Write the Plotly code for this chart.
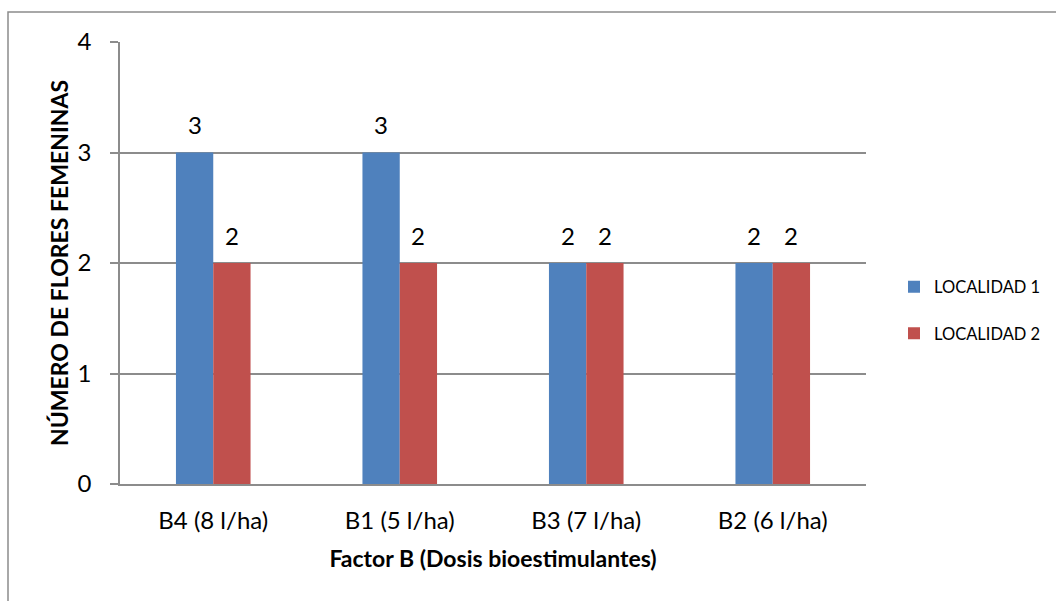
import plotly.graph_objects as go

# Datos: número de flores femeninas por dosis de bioestimulante
categorias = ["B4 (8 l/ha)", "B1 (5 l/ha)", "B3 (7 l/ha)", "B2 (6 l/ha)"]
localidad_1 = [3, 3, 2, 2]
localidad_2 = [2, 2, 2, 2]
series = [("LOCALIDAD 1", localidad_1, "#4F81BD"), ("LOCALIDAD 2", localidad_2, "#C0504D")]
y_ticks = [0, 1, 2, 3, 4]

W, H = 1056, 601
L, R, T, B = 120, 190, 42, 117
plot_w = W - L - R
plot_h = H - T - B
font_family = "Lato, 'Open Sans', sans-serif"
gris = "#8C8C8C"

fig = go.Figure()
for i, (nombre, valores, color) in enumerate(series):
    fig.add_trace(go.Bar(
        x=categorias, y=valores, name=nombre,
        marker=dict(color=color, line=dict(width=0)),
        legendgroup=f"g{i}",
    ))

# Etiquetas de valor sobre cada barra
group_frac = 0.4
bar_px = plot_w / len(categorias) * group_frac / len(series)
annotations = []
for i, (nombre, valores, color) in enumerate(series):
    offset = (i - (len(series) - 1) / 2) * bar_px
    for c, v in zip(categorias, valores):
        annotations.append(dict(
            x=c, y=v, xref="x", yref="y", text=str(v), showarrow=False,
            xshift=offset, yshift=28, yanchor="middle",
            font=dict(size=24, color="black", family=font_family),
        ))

fig.update_layout(
    width=W, height=H,
    margin=dict(l=L, r=R, t=T, b=B, autoexpand=False),
    paper_bgcolor="white", plot_bgcolor="white",
    barmode="group", bargap=1 - group_frac, bargroupgap=0,
    font=dict(family=font_family, color="black"),
    showlegend=True,
    legend=dict(
        x=(894 - L) / plot_w, xanchor="left",
        y=(T + plot_h - 310) / plot_h, yanchor="middle",
        font=dict(size=16.5, color="black"),
        tracegroupgap=22, bgcolor="rgba(0,0,0,0)",
    ),
    annotations=annotations,
    shapes=[dict(
        type="rect", xref="paper", yref="paper",
        x0=(8 - L) / plot_w, x1=(1070 - L) / plot_w,
        y0=(T + plot_h - 620) / plot_h, y1=(T + plot_h - 12) / plot_h,
        line=dict(color=gris, width=1.5), fillcolor="rgba(0,0,0,0)", layer="below",
    )],
)

fig.update_xaxes(
    showline=True, linecolor=gris, linewidth=1.5,
    ticks="", showgrid=False, automargin=False,
    tickfont=dict(size=24, color="black"), ticklabelstandoff=14,
    title=dict(text="<b>Factor B (Dosis bioestimulantes)</b>",
               font=dict(size=23, color="black"), standoff=18),
)
fig.update_yaxes(
    range=[0, 4], tickvals=y_ticks, ticktext=[str(t) for t in y_ticks],
    showline=True, linecolor=gris, linewidth=1.5,
    ticks="outside", ticklen=8, tickcolor=gris, tickwidth=1.5,
    showgrid=True, gridcolor=gris, gridwidth=1.5, zeroline=False,
    automargin=False,
    tickfont=dict(size=24, color="black"), ticklabelstandoff=14,
    title=dict(text="<b>NÚMERO DE FLORES FEMENINAS</b>",
               font=dict(size=23, color="black"), standoff=2),
)

fig.write_html("out.html")
